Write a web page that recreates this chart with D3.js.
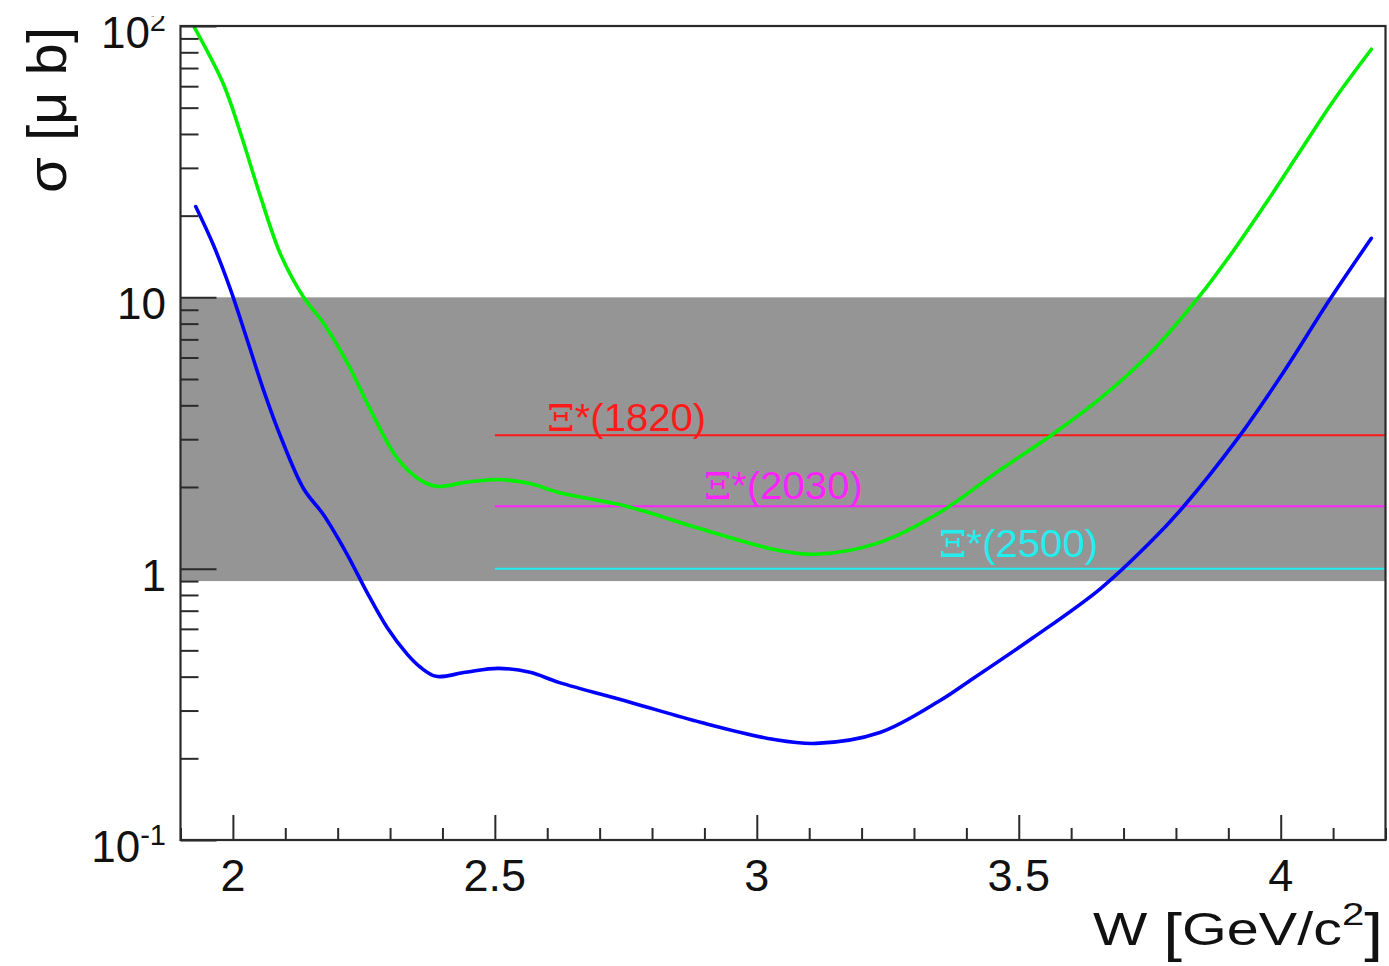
<!DOCTYPE html>
<html><head><meta charset="utf-8">
<script src="https://cdn.jsdelivr.net/npm/d3@7"></script>
<style>body{margin:0;background:#fff}</style>
</head><body>
<script>
// ---------------- data ----------------
const W_green = [1.925,1.982,2.014,2.053,2.091,2.135,2.173,2.218,2.268,2.314,2.358,2.390,2.444,2.506,2.567,2.622,2.751,2.894,3.031,3.113,3.235,3.349,3.464,3.565,3.655,3.750,3.845,3.908,3.973,4.036,4.099,4.173];
const sigma_green = [100,61.0,40.6,23.4,14.4,10.0,8.02,5.76,3.67,2.55,2.12,2.01,2.08,2.13,2.06,1.91,1.70,1.40,1.18,1.13,1.25,1.61,2.31,3.13,4.23,6.20,10.1,14.7,22.4,34.3,52.5,82.1];
const W_blue = [1.929,1.963,1.995,2.028,2.058,2.091,2.135,2.173,2.218,2.257,2.295,2.333,2.358,2.388,2.444,2.506,2.567,2.622,2.758,2.894,3.031,3.113,3.235,3.349,3.401,3.527,3.655,3.750,3.813,3.918,4.004,4.093,4.173];
const sigma_blue = [21.6,15.55,10.74,6.90,4.58,3.07,1.97,1.58,1.13,0.811,0.604,0.483,0.433,0.401,0.415,0.429,0.415,0.381,0.322,0.271,0.235,0.227,0.249,0.326,0.380,0.556,0.841,1.245,1.68,3.02,5.25,9.77,16.5];
const bandRange = [0.9, 10];
const levelNames = ["Ξ*(1820)", "Ξ*(2030)", "Ξ*(2500)"];
const levelSigma = [3.1, 1.7, 1.0];
const levelStartW = 2.5;
const labelW = [2.60, 2.899, 3.348];
const labelSigma = [3.22, 1.80, 1.10];
const xTickValues = [2, 2.5, 3, 3.5, 4];
const xTickLabels = ["2", "2.5", "3", "3.5", "4"];
const yMajor = [0.1, 1, 10, 100];
const yTickBase = ["10", "1", "10", "10"];
const yTickExp = ["-1", "", "", "2"];
const xDomain = [1.9, 4.2];
const yDomain = [0.1, 100];

// ---------------- setup ----------------
const FONT = "'Liberation Sans', Arial, Helvetica, sans-serif";
const svg = d3.select("body").append("svg").attr("width", 1389).attr("height", 966);
const x = d3.scaleLinear().domain(xDomain).range([180.5, 1385.5]);
const y = d3.scaleLog().domain(yDomain).range([840, 26]);
const X0 = x.range()[0], X1 = x.range()[1], Y0 = y.range()[0], Y1 = y.range()[1];

svg.append("defs").append("clipPath").attr("id", "plotclip")
  .append("rect").attr("x", X0).attr("y", Y1).attr("width", X1 - X0).attr("height", Y0 - Y1);
svg.select("defs").append("clipPath").attr("id", "topclip")
  .append("rect").attr("x", 0).attr("y", 16).attr("width", 1389).attr("height", 950);

// band
svg.append("rect")
  .attr("x", X0).attr("width", X1 - X0)
  .attr("y", y(bandRange[1])).attr("height", y(bandRange[0]) - y(bandRange[1]))
  .attr("fill", "#959595");

const plot = svg.append("g").attr("clip-path", "url(#plotclip)");

// level lines
const levelColors = ["#ff1a1a", "#ff22ff", "#22eeee"];
levelSigma.forEach((v, i) => {
  plot.append("line")
    .attr("x1", x(levelStartW)).attr("x2", X1)
    .attr("y1", y(v)).attr("y2", y(v))
    .attr("stroke", levelColors[i]).attr("stroke-width", 2);
});

// curves
const line = d3.line().x(d => x(d[0])).y(d => y(d[1])).curve(d3.curveCatmullRom.alpha(0.5));
plot.append("path").datum(d3.zip(W_green, sigma_green))
  .attr("d", line).attr("fill", "none").attr("stroke", "#00f000").attr("stroke-width", 3.6).attr("stroke-linecap", "round");
plot.append("path").datum(d3.zip(W_blue, sigma_blue))
  .attr("d", line).attr("fill", "none").attr("stroke", "#0000ff").attr("stroke-width", 3.6).attr("stroke-linecap", "round");

// helper: horizontal scale factor to fit a width
function fitText(g, width) {
  const w = g.node().getBBox().width;
  return width / w;
}

// level labels
levelNames.forEach((name, i) => {
  const g = svg.append("g");
  const t = g.append("text").attr("font-family", FONT).attr("font-size", 38).attr("fill", levelColors[i]);
  t.append("tspan").attr("font-family", "'DejaVu Serif', 'Liberation Serif', serif").attr("font-size", 37).text(name[0]);
  t.append("tspan").text(name.slice(1));
  const s = fitText(g, 159);
  g.attr("transform", `translate(${x(labelW[i])},${y(labelSigma[i])}) scale(${s},1)`);
});

// axes
const axisColor = "#2a2a2a";
const xMinor = d3.range(19, 43).map(d => d / 10).filter(v => !xTickValues.some(m => Math.abs(m - v) < 1e-9));
const xAxisMajor = d3.axisBottom(x).tickValues(xTickValues).tickSizeInner(-25).tickSizeOuter(0).tickFormat("");
const xAxisMinor = d3.axisBottom(x).tickValues(xMinor).tickSizeInner(-12).tickSizeOuter(0).tickFormat("");
const yMinor = [];
[0.1, 1, 10].forEach(d => { for (let k = 2; k <= 9; k++) yMinor.push(d * k); });
const yAxisMajor = d3.axisLeft(y).tickValues(yMajor).tickSizeInner(-36).tickSizeOuter(0).tickFormat("");
const yAxisMinor = d3.axisLeft(y).tickValues(yMinor).tickSizeInner(-18).tickSizeOuter(0).tickFormat("");

[[xAxisMajor, `translate(0,${Y0})`], [xAxisMinor, `translate(0,${Y0})`],
 [yAxisMajor, `translate(${X0},0)`], [yAxisMinor, `translate(${X0},0)`]].forEach(([ax, tr]) => {
  const g = svg.append("g").attr("transform", tr).call(ax);
  g.selectAll("line").attr("stroke", axisColor).attr("stroke-width", 2);
  g.select(".domain").remove();
});

// frame
svg.append("rect").attr("x", X0).attr("y", Y1).attr("width", X1 - X0).attr("height", Y0 - Y1)
  .attr("fill", "none").attr("stroke", axisColor).attr("stroke-width", 2.2);

// x tick labels
xTickValues.forEach((v, i) => {
  svg.append("text").attr("x", x(v)).attr("y", 891).attr("text-anchor", "middle")
    .attr("font-family", FONT).attr("font-size", 45).attr("fill", "#111").text(xTickLabels[i]);
});

// y tick labels
const ylab = svg.append("g").attr("clip-path", "url(#topclip)");
yMajor.forEach((v, i) => {
  const t = ylab.append("text").attr("x", 166).attr("y", y(v) + 22).attr("text-anchor", "end")
    .attr("font-family", FONT).attr("font-size", 44).attr("fill", "#111");
  t.append("tspan").text(yTickBase[i]);
  if (yTickExp[i]) {
    t.append("tspan").attr("font-size", 29).attr("dy", -17).text(yTickExp[i]);
  }
});

// x title
{
  const g = svg.append("g");
  const t = g.append("text").attr("text-anchor", "end").attr("font-family", FONT).attr("font-size", 46).attr("fill", "#111");
  t.append("tspan").text("W ");
  t.append("tspan").attr("font-size", 54).attr("dy", 6).text("[");
  t.append("tspan").attr("dy", -6).text("GeV/c");
  t.append("tspan").attr("font-size", 32).attr("dy", -20).text("2");
  t.append("tspan").attr("font-size", 54).attr("dy", 26).text("]");
  const s = fitText(g, 290);
  g.attr("transform", `translate(1383,945) scale(${s},1)`);
}

// y title
{
  const g = svg.append("g");
  const t = g.append("text").attr("text-anchor", "end").attr("font-family", FONT).attr("font-size", 56).attr("fill", "#111");
  t.text("σ [μ b]");
  const s = fitText(g, 166);
  g.attr("transform", `translate(66,27) rotate(-90) scale(${s},1)`);
}
</script>
</body></html>
